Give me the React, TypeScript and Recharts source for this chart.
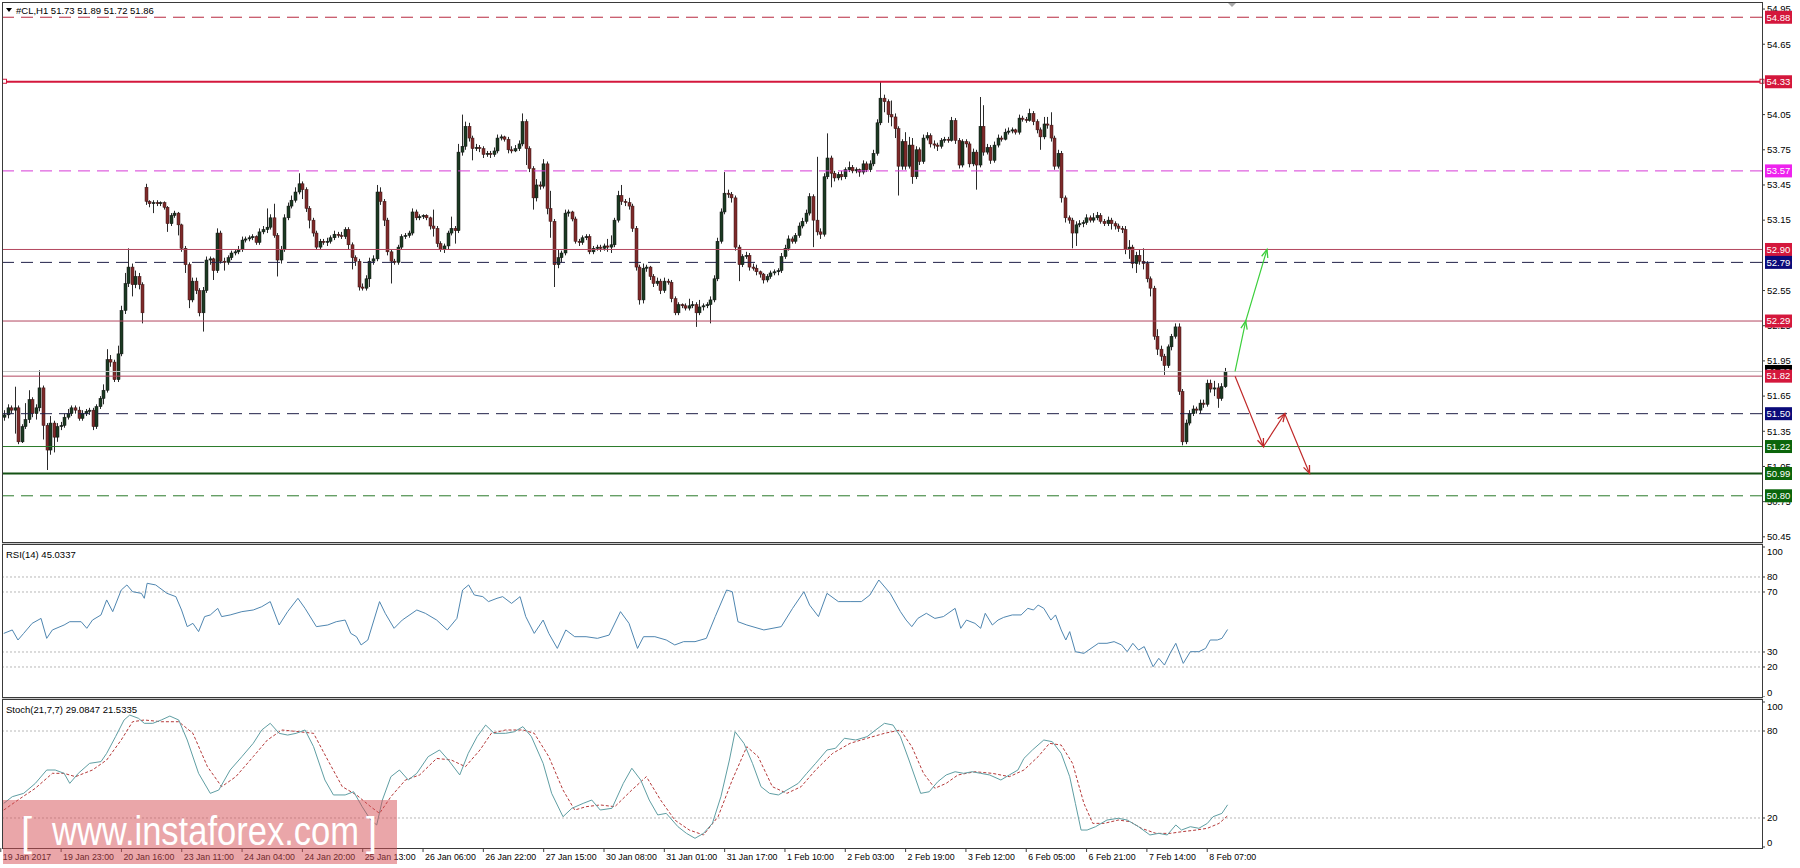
import React from 'react';
import { ComposedChart, Bar, Line, XAxis, YAxis, ReferenceLine } from 'recharts';

// ---------- DATA ----------
// Hourly candles #CL,H1 : [open, high, low, close]
const candles: [number, number, number, number][] = [
[51.47,51.53,51.44,51.49],[51.49,51.58,51.46,51.55],[51.55,51.57,51.50,51.53],[51.53,51.73,51.33,51.55],[51.55,51.57,51.24,51.26],
[51.26,51.41,51.25,51.39],[51.39,51.59,51.37,51.45],[51.45,51.70,51.42,51.62],[51.62,51.64,51.47,51.50],[51.50,51.58,51.45,51.55],
[51.55,51.87,51.52,51.72],[51.72,51.74,51.28,51.40],[51.40,51.42,51.02,51.19],[51.19,51.48,51.15,51.42],[51.42,51.44,51.17,51.30],
[51.30,51.42,51.26,51.39],[51.39,51.43,51.36,51.40],[51.40,51.50,51.38,51.47],[51.47,51.54,51.45,51.50],[51.50,51.57,51.48,51.55],
[51.55,51.57,51.50,51.53],[51.53,51.56,51.44,51.46],[51.46,51.53,51.44,51.50],[51.50,51.54,51.48,51.52],[51.52,51.55,51.49,51.53],
[51.53,51.55,51.36,51.39],[51.39,51.58,51.37,51.56],[51.56,51.65,51.54,51.63],[51.63,51.75,51.58,51.70],[51.70,52.05,51.68,51.96],
[51.96,52.00,51.90,51.94],[51.94,51.96,51.77,51.79],[51.79,52.08,51.77,52.01],[52.01,52.42,51.99,52.38],[52.38,52.70,52.35,52.61],
[52.61,52.91,52.58,52.75],[52.75,52.78,52.50,52.60],[52.60,52.72,52.57,52.67],[52.67,52.70,52.56,52.60],[52.60,52.62,52.27,52.36],
[53.43,53.46,53.28,53.31],[53.31,53.32,53.26,53.29],[53.29,53.32,53.21,53.30],[53.30,53.32,53.27,53.29],[53.29,53.31,53.27,53.30],
[53.30,53.31,53.24,53.26],[53.26,53.27,53.05,53.12],[53.12,53.21,53.10,53.19],[53.19,53.23,53.17,53.21],[53.21,53.22,53.02,53.11],
[53.11,53.12,52.88,52.91],[52.91,52.93,52.70,52.77],[52.77,52.79,52.40,52.47],[52.47,52.66,52.45,52.63],[52.63,52.66,52.52,52.55],
[52.55,52.57,52.33,52.36],[52.36,52.58,52.20,52.55],[52.55,52.84,52.53,52.81],[52.81,52.84,52.77,52.82],[52.82,52.83,52.64,52.72],
[52.72,53.08,52.70,53.04],[53.04,53.06,52.78,52.80],[52.80,52.83,52.72,52.79],[52.79,52.85,52.77,52.83],[52.83,52.89,52.81,52.87],
[52.87,52.90,52.85,52.88],[52.88,52.93,52.86,52.90],[52.90,53.01,52.88,52.98],[52.98,53.01,52.96,52.99],[52.99,53.02,52.97,53.00],
[53.00,53.03,52.98,53.01],[53.01,53.02,52.94,52.96],[52.96,53.08,52.94,53.05],[53.05,53.10,53.03,53.07],[53.07,53.25,53.04,53.09],
[53.09,53.20,53.07,53.17],[53.17,53.29,53.00,53.02],[53.02,53.04,52.67,52.81],[52.81,52.93,52.78,52.90],[52.90,53.20,52.88,53.17],
[53.17,53.30,53.15,53.27],[53.27,53.36,53.25,53.32],[53.32,53.43,53.30,53.39],[53.39,53.55,53.37,53.46],[53.46,53.48,53.33,53.41],
[53.41,53.43,53.22,53.25],[53.25,53.27,53.08,53.15],[53.15,53.17,53.01,53.04],[53.04,53.06,52.90,52.92],[52.92,52.99,52.90,52.97],
[52.97,52.99,52.94,52.96],[52.96,53.00,52.93,52.97],[52.97,53.02,52.95,53.00],[53.00,53.06,52.98,53.03],[53.03,53.05,53.00,53.02],
[53.02,53.05,52.99,53.01],[53.01,53.09,52.99,53.07],[53.07,53.09,52.90,52.94],[52.94,52.96,52.73,52.83],[52.83,52.85,52.76,52.80],
[52.80,52.82,52.55,52.58],[52.58,52.61,52.55,52.57],[52.57,52.68,52.55,52.65],[52.65,52.83,52.58,52.80],[52.80,52.85,52.77,52.82],
[52.82,53.45,52.80,53.39],[53.39,53.43,53.28,53.31],[53.31,53.33,53.10,53.15],[53.15,53.17,52.85,52.88],[52.88,52.90,52.61,52.80],
[52.80,52.82,52.77,52.79],[52.79,52.94,52.77,52.92],[52.92,53.03,52.90,53.01],[53.01,53.04,52.99,53.02],[53.02,53.06,53.00,53.04],
[53.04,53.25,53.02,53.22],[53.22,53.24,53.15,53.17],[53.17,53.20,53.15,53.18],[53.18,53.20,53.16,53.19],[53.19,53.20,53.15,53.17],
[53.17,53.18,53.07,53.10],[53.10,53.24,53.01,53.08],[53.08,53.10,52.92,52.95],[52.95,52.97,52.88,52.90],[52.90,52.95,52.87,52.93],
[52.93,53.06,52.90,53.04],[53.04,53.18,53.02,53.08],[53.08,53.10,52.95,53.06],[53.06,53.80,53.04,53.73],[53.73,54.05,53.70,53.78],
[53.78,53.99,53.75,53.95],[53.95,53.98,53.82,53.85],[53.85,53.87,53.66,53.76],[53.76,53.80,53.74,53.77],[53.77,53.79,53.73,53.76],
[53.76,53.78,53.68,53.71],[53.71,53.74,53.69,53.72],[53.72,53.74,53.68,53.71],[53.71,53.77,53.69,53.74],[53.74,53.88,53.72,53.85],
[53.85,53.88,53.83,53.86],[53.86,53.87,53.82,53.84],[53.84,53.86,53.72,53.75],[53.75,53.78,53.72,53.74],[53.74,53.79,53.73,53.76],
[53.76,53.83,53.74,53.80],[53.80,54.06,53.78,53.99],[53.99,54.01,53.62,53.76],[53.76,53.78,53.56,53.59],[53.59,53.61,53.24,53.34],
[53.34,53.50,53.31,53.45],[53.45,53.48,53.41,53.44],[53.44,53.67,53.42,53.63],[53.63,53.65,53.20,53.25],[53.25,53.40,53.00,53.14],
[53.14,53.16,52.58,52.77],[52.77,52.90,52.74,52.83],[52.83,52.89,52.79,52.87],[52.87,53.24,52.85,53.21],[53.21,53.24,53.18,53.22],
[53.22,53.23,53.14,53.16],[53.16,53.18,52.95,52.97],[52.97,52.99,52.93,52.96],[52.96,53.02,52.94,53.00],[53.00,53.03,52.98,53.01],
[53.01,53.03,52.86,52.88],[52.88,52.93,52.86,52.91],[52.91,52.94,52.89,52.92],[52.92,52.94,52.88,52.91],[52.91,52.95,52.89,52.93],
[52.93,52.99,52.88,52.92],[52.92,53.02,52.87,52.94],[52.94,53.17,52.92,53.15],[53.15,53.40,53.13,53.36],[53.36,53.45,53.28,53.31],
[53.31,53.33,53.27,53.30],[53.30,53.34,53.24,53.27],[53.27,53.29,53.05,53.08],[53.08,53.10,52.72,52.75],[52.75,52.77,52.43,52.47],
[52.47,52.78,52.44,52.74],[52.74,52.77,52.71,52.75],[52.75,52.76,52.64,52.67],[52.67,52.69,52.58,52.61],[52.61,52.66,52.59,52.63],
[52.63,52.65,52.52,52.55],[52.55,52.66,52.53,52.63],[52.63,52.65,52.60,52.62],[52.62,52.64,52.45,52.48],[52.48,52.50,52.34,52.36],
[52.36,52.45,52.34,52.43],[52.43,52.44,52.40,52.42],[52.42,52.44,52.38,52.40],[52.40,52.48,52.38,52.42],[52.42,52.46,52.40,52.43],
[52.43,52.45,52.24,52.36],[52.36,52.47,52.34,52.41],[52.41,52.44,52.38,52.42],[52.42,52.45,52.40,52.43],[52.43,52.50,52.27,52.47],
[52.47,52.68,52.45,52.65],[52.65,53.00,52.63,52.97],[52.97,53.25,52.95,53.22],[53.22,53.56,53.20,53.38],[53.38,53.41,53.34,53.37],
[53.37,53.39,53.30,53.34],[53.34,53.36,52.89,52.92],[52.92,52.94,52.63,52.77],[52.77,52.86,52.75,52.84],[52.84,52.88,52.82,52.85],
[52.85,52.87,52.72,52.75],[52.75,52.78,52.72,52.74],[52.74,52.77,52.68,52.71],[52.71,52.72,52.66,52.69],[52.69,52.70,52.61,52.64],
[52.64,52.69,52.62,52.67],[52.67,52.72,52.65,52.70],[52.70,52.73,52.68,52.71],[52.71,52.74,52.68,52.72],[52.72,52.87,52.70,52.84],
[52.84,52.94,52.82,52.91],[52.91,53.02,52.89,52.99],[52.99,53.01,52.95,52.97],[52.97,53.04,52.95,53.02],[53.02,53.13,53.00,53.10],
[53.10,53.17,53.08,53.14],[53.14,53.24,53.12,53.21],[53.21,53.38,53.19,53.35],[53.35,53.37,52.92,53.15],[53.15,53.69,53.02,53.05],
[53.05,53.08,52.99,53.03],[53.03,53.55,53.01,53.52],[53.52,53.89,53.50,53.68],[53.68,53.70,53.43,53.55],[53.55,53.57,53.48,53.51],
[53.51,53.56,53.49,53.54],[53.54,53.57,53.49,53.52],[53.52,53.60,53.50,53.58],[53.58,53.65,53.56,53.60],[53.60,53.62,53.55,53.57],
[53.57,53.60,53.55,53.58],[53.58,53.59,53.52,53.56],[53.56,53.66,53.54,53.63],[53.63,53.65,53.56,53.58],[53.58,53.66,53.56,53.63],
[53.63,53.75,53.61,53.72],[53.72,54.01,53.70,53.98],[53.98,54.33,53.96,54.19],[54.19,54.22,54.07,54.16],[54.16,54.18,53.98,54.05],
[54.05,54.17,53.95,54.03],[54.03,54.06,53.85,53.93],[53.93,53.95,53.36,53.61],[53.61,53.84,53.58,53.82],[53.82,53.90,53.58,53.61],
[53.61,53.86,53.59,53.79],[53.79,53.85,53.46,53.52],[53.52,53.78,53.50,53.75],[53.75,53.77,53.62,53.65],[53.65,53.88,53.63,53.85],
[53.85,53.90,53.83,53.87],[53.87,53.89,53.77,53.80],[53.80,53.83,53.76,53.79],[53.79,53.81,53.74,53.78],[53.78,53.85,53.76,53.83],
[53.83,53.86,53.81,53.84],[53.84,53.86,53.81,53.83],[53.83,54.03,53.82,54.00],[54.00,54.02,53.80,53.83],[53.83,53.85,53.59,53.62],
[53.62,53.84,53.60,53.82],[53.82,53.84,53.77,53.80],[53.80,53.82,53.60,53.63],[53.63,53.76,53.61,53.73],[53.73,53.75,53.41,53.62],
[53.62,54.20,53.60,53.95],[53.95,54.13,53.70,53.73],[53.73,53.80,53.71,53.77],[53.77,53.79,53.63,53.66],[53.66,53.82,53.64,53.79],
[53.79,53.88,53.77,53.85],[53.85,53.87,53.82,53.84],[53.84,53.93,53.83,53.90],[53.90,53.94,53.88,53.91],[53.91,53.94,53.89,53.92],
[53.92,53.93,53.88,53.90],[53.90,54.05,53.88,54.02],[54.02,54.04,53.99,54.01],[54.01,54.03,53.98,54.00],[54.00,54.10,53.99,54.06],
[54.06,54.08,53.96,53.99],[53.99,54.01,53.89,53.92],[53.92,53.94,53.75,53.86],[53.86,54.03,53.84,53.97],[53.97,54.03,53.93,53.96],
[53.96,54.07,53.82,53.85],[53.85,53.87,53.58,53.61],[53.61,53.75,53.59,53.72],[53.72,53.74,53.30,53.34],[53.34,53.36,53.13,53.17],
[53.17,53.19,53.12,53.15],[53.15,53.17,52.91,53.04],[53.04,53.14,52.93,53.11],[53.11,53.15,53.09,53.12],[53.12,53.15,53.09,53.13],
[53.13,53.20,53.11,53.17],[53.17,53.19,53.13,53.15],[53.15,53.21,53.13,53.17],[53.17,53.22,53.15,53.19],[53.19,53.21,53.12,53.14],
[53.14,53.16,53.10,53.12],[53.12,53.18,53.10,53.15],[53.15,53.17,53.07,53.12],[53.12,53.14,53.07,53.10],[53.10,53.12,53.05,53.08],
[53.08,53.10,53.04,53.07],[53.07,53.10,52.86,52.90],[52.90,52.98,52.82,52.92],[52.92,52.94,52.74,52.78],[52.78,52.88,52.70,52.85],
[52.85,52.90,52.77,52.80],[52.80,52.91,52.73,52.78],[52.78,52.80,52.62,52.65],[52.65,52.67,52.50,52.57],[52.57,52.59,52.13,52.16],
[52.16,52.22,52.00,52.05],[52.05,52.08,51.95,51.99],[51.99,52.01,51.83,51.91],[51.91,52.09,51.89,52.07],[52.07,52.18,52.04,52.16],
[52.16,52.27,52.14,52.24],[52.24,52.27,51.66,51.69],[51.69,51.71,51.23,51.26],[51.26,51.45,51.24,51.42],[51.42,51.53,51.40,51.50],
[51.50,51.57,51.48,51.54],[51.54,51.56,51.50,51.53],[51.53,51.62,51.50,51.59],[51.59,51.62,51.55,51.58],[51.58,51.79,51.56,51.76],
[51.76,51.79,51.68,51.71],[51.71,51.78,51.65,51.72],[51.72,51.76,51.55,51.63],[51.63,51.76,51.61,51.73],[51.73,51.89,51.72,51.86],
];

// RSI(14) readings: [bar, value]
const rsiPoints: [number, number][] = [
[0,42.4],[2.4,44.7],[4,38],[5.6,42.4],[8,49.1],[10.5,52.4],[12.1,39.1],[13.7,44.7],[17,48],[18.6,50.2],[21.8,50.2],[23.4,45.8],
[25,51.3],[27.4,54.7],[29,64.7],[30.7,56.9],[33.1,71.3],[34.7,74.7],[36.3,70.2],[38.8,69.1],[39.6,65.8],[40.4,75.8],[42.8,74.7],
[46,69.1],[48.5,66.9],[50.1,58],[51.7,46.9],[53.3,49.1],[54.9,43.6],[56.6,53.6],[58.2,54.7],[60.3,59.1],[61.4,53.6],[63.8,54.7],
[67.1,56.9],[70.3,58],[72.7,60.2],[75.1,63.6],[77.6,48],[80,56.9],[82.9,65.8],[84.9,59.1],[88.1,46.9],[91.3,48],[93.7,50.2],
[96.2,51.3],[97.8,42.4],[99.4,40.2],[100.7,34.7],[102.6,38],[105.9,63.6],[107.5,55.8],[110,45.8],[112.3,51.3],[116.4,58],
[118.8,55.8],[122,51.3],[125,44.7],[127.7,52.4],[129.3,71.3],[131,74.7],[132.6,68],[135,66.9],[136.6,63.6],[139,65.8],
[140.6,66.9],[143.1,62.4],[145.5,66.9],[147.1,53.6],[149.5,42.4],[152,51.3],[153.6,42.4],[156,32.4],[158.4,44.7],[160.9,40.2],
[164.1,40.2],[167.3,39.1],[170.6,41.3],[173.8,56.9],[176.2,49.1],[178.6,32.4],[180.3,40.2],[183.5,40.2],[186.7,38],[189.1,34.7],
[191.6,36.9],[194.8,36.9],[198,39.1],[200.5,53.6],[203.7,71.3],[205.3,70.2],[206.9,50.2],[209.4,48],[214.2,44.7],[219.1,46.9],
[222.3,59.1],[225.5,70.2],[227.1,61.3],[229.6,53.6],[232,69.1],[235.2,63.6],[238.5,63.6],[241.7,63.6],[244.1,68],[246.6,78],
[249.8,69.1],[252.7,56.9],[254.3,51.3],[255.9,46.9],[257.6,52.4],[260,55.8],[262.4,52.4],[264.8,53.6],[268.1,59.1],[269.7,45.8],
[271.3,51.3],[273.7,49.1],[275.3,45.8],[276.6,55.8],[278.6,48],[280.2,51.3],[281.8,53.1],[284.2,54.7],[286.7,54.7],[288.6,59.1],
[290.2,58],[291.5,61.3],[293.1,59.1],[295.1,51.3],[296.4,54.7],[298,44.7],[299.3,38],[300.4,43.6],[302,30.2],[304.4,29.1],
[306.4,32.4],[308.5,35.8],[310.9,35.8],[312.9,36.9],[315,34.7],[316.6,30.2],[318.2,35.8],[319.8,31.3],[321.4,33.6],[323.9,20.2],
[325.5,25.8],[327.1,21.3],[328.7,29.1],[330.3,35.8],[332.4,22.4],[334.4,30.2],[336.8,30.2],[338.7,32.4],[340,38],[342,38],
[343.3,39.1],[344.9,45.0],
];

// Stochastic(21,7,7) main line readings: [bar, value]
const stochK: [number, number][] = [
[0,30.1],[2.4,34.7],[5.6,37],[8.9,43.9],[12.1,53.1],[14.5,53.1],[17,50.8],[18.6,43.9],[21,50.8],[24.2,57.7],[27.4,58.9],[29,64.6],
[31.5,76.1],[33.9,87.6],[35.5,91],[38,88.7],[39.6,85.3],[42,85.3],[44.4,87.6],[46.8,90.3],[49.3,87.6],[51.7,73.8],[54.9,50.8],
[58.2,37],[60.6,39.3],[63.8,53.1],[67.1,62.3],[70.3,71.5],[72.7,80.7],[75.1,85.3],[77.6,78.4],[80,77.2],[82.4,78.4],[84.9,80.7],
[87.3,69.2],[90.5,46.2],[92.9,35.9],[96.2,35.9],[98.6,38.1],[101,27.8],[103.4,18.6],[105.1,15.2],[106.7,32.4],[109.1,48.5],
[111.5,53.1],[114,46.2],[116.4,50.8],[119.6,62.3],[122.8,66.9],[125.3,60],[128.5,49.7],[130.9,64.6],[133.4,76.1],[135.8,84.1],
[138.2,78.4],[141.4,78.4],[143.9,79.5],[146.3,83],[148.7,76.1],[152,57.7],[154.4,37],[157.6,20.9],[160.1,26.7],[163.3,30.1],
[165.7,32.4],[168.1,25.5],[171.4,26.7],[174.6,43.9],[177,54.3],[179.5,46.2],[181.9,32.4],[184.3,22.1],[186.7,23.2],[190,14],
[192.4,9.4],[194.8,6],[197.2,9.4],[199.7,16.3],[202.1,34.7],[204.5,60],[206.1,79.5],[208.6,71.5],[211,57.7],[213.4,41.6],
[215.8,37],[218.3,35.9],[220.7,39.3],[223.9,43.9],[226.3,50.8],[228.8,57.7],[232,66.9],[234.4,68.1],[236.9,75],[240.1,73.8],
[243.3,76.1],[245.7,80.7],[248.2,85.3],[250.6,84.1],[252.7,76.1],[255.1,60],[258.4,37],[260.8,38.1],[263.2,45],[265.6,49.7],
[268.1,51.9],[270.5,50.8],[272.9,51.9],[275.3,50.8],[277.8,49.7],[281,46.2],[283.4,49.7],[285.8,53.1],[287.5,61.1],[289.9,66.9],
[293.1,73.8],[295.5,72.6],[298,64.6],[300.4,48.5],[302,30.1],[303.6,11.7],[305.3,11.7],[307.7,14],[310.9,18.6],[314.1,19.8],
[316.6,18.6],[319.8,14],[323,8.3],[325.5,9.4],[327.9,8.3],[330.3,15.2],[331.9,11.7],[334.4,14],[336.8,12.9],[339.2,16.3],
[340.8,20.9],[343.3,23.2],[344.9,29.1],
];

// Stochastic signal line readings: [bar, value]
const stochD: [number, number][] = [
[0,25.5],[4,32.4],[8.9,40.5],[13.7,50.8],[17,50.8],[20.2,48.5],[25,53.1],[29,60],[33.1,73.8],[36.3,86.4],[39.6,87.6],[44.4,86.4],
[49.3,86.4],[53.3,78.4],[57.4,55.4],[61.4,41.6],[65.4,48.5],[70.3,62.3],[74.3,73.8],[78.4,80.7],[83.2,79.5],[87.3,78.4],[91.3,60],
[95.4,41.6],[99.4,35.9],[103.4,27.8],[105.9,23.2],[109.1,34.7],[113.2,46.2],[117.2,49.7],[122,61.1],[126.1,60],[130.1,55.4],
[134.2,66.9],[137.4,78.4],[141.4,80.7],[146.3,80.7],[149.5,78.4],[153.6,62.3],[157.6,39.3],[160.9,25.5],[164.1,27.8],[168.1,29],
[172.2,27.8],[177,39.3],[181.1,48.5],[185.1,32.4],[189.1,18.6],[193.2,11.7],[197.2,8.3],[201.3,20.9],[205.3,46.2],[209.4,69.2],
[212.6,62.3],[216.6,41.6],[220.7,37],[224.7,41.6],[228.8,53.1],[233.6,64.6],[238.5,71.5],[243.3,75],[248.2,78.4],[252.7,80.7],
[255.9,69.2],[259.2,50.8],[262.4,40.5],[265.6,43.9],[268.9,49.7],[273.7,51.9],[278.6,50.8],[283.4,48.5],[287.5,53.1],[291.5,62.3],
[294.7,71.5],[298,70.3],[301.2,57.7],[304.4,30.1],[306.9,16.3],[310.1,16.3],[314.1,18.6],[317.4,17.5],[320.6,12.9],[324.7,9.4],
[328.7,9.4],[331.9,10.5],[336,11.7],[339.2,12.9],[342.5,16.3],[344.9,21.5],
];

// Horizontal levels drawn on the price chart
const levelPrices = [54.88, 54.33, 53.57, 52.90, 52.79, 52.29, 51.86, 51.82, 51.50, 51.22, 50.99, 50.80];
// Price-axis tick labels that show in the picture (54.35 and 52.85 sit fully under level tags)
const priceTicks = [54.95, 54.65, 54.05, 53.75, 53.45, 53.15, 52.55, 52.25, 51.95, 51.65, 51.35, 51.05, 50.75, 50.45];
// Scenario arrows: [bar, price]
const greenArrow: [number, number][] = [[347, 51.86], [350, 52.29], [356, 52.90]];
const redArrow: [number, number][] = [[347, 51.82], [355, 51.22], [361, 51.50], [368, 50.99]];
// Time axis labels and the bar where each sits
const dateLabels = ['19 Jan 2017', '19 Jan 23:00', '20 Jan 16:00', '23 Jan 11:00', '24 Jan 04:00', '24 Jan 20:00', '25 Jan 13:00',
  '26 Jan 06:00', '26 Jan 22:00', '27 Jan 15:00', '30 Jan 08:00', '31 Jan 01:00', '31 Jan 17:00', '1 Feb 10:00', '2 Feb 03:00',
  '2 Feb 19:00', '3 Feb 12:00', '6 Feb 05:00', '6 Feb 21:00', '7 Feb 14:00', '8 Feb 07:00'];
const labelBars = [0, 17, 34, 51, 68, 85, 102, 119, 136, 153, 170, 187, 204, 221, 238, 255, 272, 289, 306, 323, 340];
const rsiTicks = [100, 80, 70, 30, 20, 0];
const rsiLevels = [80, 70, 30, 20];
const stochTicks = [100, 80, 20, 0];
const stochLevels = [80, 20];

// ---------- STYLE / LAYOUT ----------
const N_SLOTS = 496;
const PRICE_DOMAIN: [number, number] = [50.406, 55.01];
const RED = '#d4173c';
const NAVY = '#0b0b7a';
const GREEN_BG = '#0b650b';
const DASH = '12 7';
const levelStyles = [
  { stroke: '#b8283f', dash: DASH, w: 1, bg: RED },
  { stroke: RED, w: 2, bg: RED, square: true },
  { stroke: '#d63ad6', dash: DASH, w: 1, bg: '#ee22ee' },
  { stroke: '#b3475f', w: 1, bg: RED },
  { stroke: '#202048', dash: DASH, w: 1, bg: NAVY },
  { stroke: '#b3475f', w: 1, bg: RED },
  { stroke: '#c4c4c4', w: 1, bg: '#000000' },
  { stroke: '#b3475f', w: 1, bg: RED },
  { stroke: '#202048', dash: DASH, w: 1, bg: NAVY },
  { stroke: '#2a7a2a', w: 1, bg: GREEN_BG },
  { stroke: '#145214', w: 2, bg: GREEN_BG },
  { stroke: '#2a7a2a', dash: DASH, w: 1, bg: GREEN_BG },
];
const FONT = "'Liberation Sans', Arial, sans-serif";

const mainRows = Array.from({ length: N_SLOTS }, (_, i) => {
  const k = candles[i];
  const row: Record<string, any> = { i };
  if (k) {
    row.o = k[0]; row.h = k[1]; row.l = k[2]; row.c = k[3];
    row.range = [k[2], k[1]];
  }
  return row;
});
greenArrow.forEach(([b, p]) => { mainRows[b].g = p; });
redArrow.forEach(([b, p]) => { mainRows[b].r = p; });

const toXY = (pts: [number, number][]) => pts.map(([x, v]) => ({ x, v }));

// ---------- SHAPES ----------
const Candle = (props: any) => {
  const { x, y, width, height, payload } = props;
  if (!payload || payload.c == null || y == null || isNaN(y)) return <g />;
  const { o, h, l, c } = payload;
  const top = Math.min(y, y + height);
  const bot = Math.max(y, y + height);
  const k = (bot - top) / (h - l || 1);
  const yO = top + (h - o) * k;
  const yC = top + (h - c) * k;
  const cx = Math.round(x + width / 2) + 0.5;
  const bull = c >= o;
  const bTop = Math.min(yO, yC);
  const bH = Math.max(1, Math.abs(yO - yC));
  return (
    <g>
      <line x1={cx} x2={cx} y1={top} y2={bot} stroke="#2a2a2a" strokeWidth={1} />
      <rect x={cx - 1.5} y={bTop} width={3} height={bH} fill={bull ? '#1b3a22' : '#7e2a2a'} stroke={bull ? '#111' : '#3a1414'} strokeWidth={0.5} />
    </g>
  );
};

const LevelLabel = (props: any) => {
  const { viewBox, text, bg, square, stroke } = props;
  if (!viewBox) return <g />;
  const { x, y, width } = viewBox;
  const rx = x + width + 3;
  return (
    <g>
      {square && <rect x={x + 0.5} y={y - 2.5} width={4} height={4} fill="#fff" stroke={stroke} strokeWidth={1} />}
      {square && <rect x={x + width - 2} y={y - 2.5} width={4} height={4} fill="#fff" stroke={stroke} strokeWidth={1} />}
      <rect x={rx} y={y - 6.5} width={27} height={13} fill={bg} />
      <text x={rx + 1.5} y={y + 3.3} fontSize={9.5} fill="#fff" fontFamily={FONT}>{text}</text>
    </g>
  );
};

const TickText = (props: any) => {
  const { viewBox, text, dy } = props;
  if (!viewBox) return <g />;
  const { x, y, width } = viewBox;
  return (
    <g>
      <line x1={x + width} x2={x + width + 3} y1={y} y2={y} stroke="#404040" />
      <text x={x + width + 5} y={y + 3.3 + (dy || 0)} fontSize={9.5} fill="#000" fontFamily={FONT}>{text}</text>
    </g>
  );
};

const ArrowHead = (props: any) => {
  const { cx, cy, index, points, value, color } = props;
  if (cx == null || cy == null || value == null || !points) return <g />;
  let j = index - 1;
  while (j >= 0 && (points[j].y == null || points[j].value == null)) j--;
  if (j < 0) return <g />;
  const dx = cx - points[j].x;
  const dy = cy - points[j].y;
  const len = Math.hypot(dx, dy) || 1;
  const ux = dx / len;
  const uy = dy / len;
  const s = 8;
  const w = 3.2;
  const bx = cx - ux * s;
  const by = cy - uy * s;
  return (
    <polyline
      points={`${bx - uy * w},${by + ux * w} ${cx},${cy} ${bx + uy * w},${by - ux * w}`}
      fill="none" stroke={color} strokeWidth={1.3}
    />
  );
};

const DateTick = (props: any) => {
  const { x, y, payload } = props;
  const idx = labelBars.indexOf(payload.value);
  if (idx < 0) return <g />;
  return (
    <g>
      <line x1={x - 3} x2={x - 3} y1={y} y2={y + 4} stroke="#404040" />
      <text x={x - 1} y={y + 12} fontSize={8.8} fill="#000" fontFamily={FONT}>{dateLabels[idx]}</text>
    </g>
  );
};

// ---------- APP ----------
export default function App() {
  const last = candles[candles.length - 1];
  const header = `#CL,H1  ${last[0].toFixed(2)} ${last[1].toFixed(2)} ${last[2].toFixed(2)} ${last[3].toFixed(2)}`;
  return (
    <div style={{ position: 'absolute', left: 0, top: 0, width: 1800, height: 868, background: '#fff', fontFamily: FONT, overflow: 'hidden' }}>
      {/* Price panel */}
      <div style={{ position: 'absolute', left: 0, top: 0 }}>
        <ComposedChart width={1800} height={545} data={mainRows} margin={{ top: 2, right: 38, bottom: 3, left: 2 }} barCategoryGap={0} barGap={0}>
          <XAxis dataKey="i" hide />
          <YAxis hide domain={PRICE_DOMAIN} allowDataOverflow />
          <Bar dataKey="range" shape={<Candle />} isAnimationActive={false} />
          {priceTicks.map((t) => (
            <ReferenceLine key={'pt' + t} y={t} stroke="none" label={<TickText text={t.toFixed(2)} />} />
          ))}
          {levelPrices.map((p, i) => {
            const s = levelStyles[i];
            return (
              <ReferenceLine
                key={'lv' + p}
                y={p}
                stroke={s.stroke}
                strokeWidth={s.w}
                strokeDasharray={s.dash}
                label={<LevelLabel text={p.toFixed(2)} bg={s.bg} square={s.square} stroke={s.stroke} />}
              />
            );
          })}
          <Line
            dataKey="g" stroke="#3ccf3c" strokeWidth={1.2} connectNulls isAnimationActive={false} activeDot={false}
            dot={(p: any) => { const { key, ...rest } = p; return <ArrowHead key={key} {...rest} color="#3ccf3c" />; }}
          />
          <Line
            dataKey="r" stroke="#c02a2a" strokeWidth={1.2} connectNulls isAnimationActive={false} activeDot={false}
            dot={(p: any) => { const { key, ...rest } = p; return <ArrowHead key={key} {...rest} color="#c02a2a" />; }}
          />
        </ComposedChart>
      </div>

      {/* RSI panel */}
      <div style={{ position: 'absolute', left: 0, top: 545 }}>
        <ComposedChart width={1800} height={152} margin={{ top: 0, right: 38, bottom: 0, left: 2 }}>
          <XAxis type="number" dataKey="x" domain={[-0.5, N_SLOTS - 0.5]} hide allowDataOverflow />
          <YAxis hide domain={[0, 101.33]} allowDataOverflow />
          {rsiLevels.map((v) => (
            <ReferenceLine key={'rl' + v} y={v} stroke="#b8b8b8" strokeDasharray="2 2" />
          ))}
          {rsiTicks.map((v) => (
            <ReferenceLine key={'rt' + v} y={v} stroke="none" label={<TickText text={String(v)} dy={v === 100 ? 5 : v === 0 ? -4 : 0} />} />
          ))}
          <Line data={toXY(rsiPoints)} dataKey="v" stroke="#4f86b0" strokeWidth={1} dot={false} activeDot={false} isAnimationActive={false} />
        </ComposedChart>
      </div>

      {/* Stochastic panel with time axis */}
      <div style={{ position: 'absolute', left: 0, top: 700 }}>
        <ComposedChart width={1800} height={168} margin={{ top: 0, right: 38, bottom: 0, left: 2 }}>
          <XAxis
            type="number" dataKey="x" domain={[-0.5, N_SLOTS - 0.5]} allowDataOverflow height={20}
            ticks={labelBars} interval={0} tick={<DateTick />} tickLine={false} axisLine={false} tickSize={0} tickMargin={0}
          />
          <YAxis hide domain={[-0.69, 101.38]} allowDataOverflow />
          {stochLevels.map((v) => (
            <ReferenceLine key={'sl' + v} y={v} stroke="#b8b8b8" strokeDasharray="2 2" />
          ))}
          {stochTicks.map((v) => (
            <ReferenceLine key={'st' + v} y={v} stroke="none" label={<TickText text={String(v)} dy={v === 100 ? 5 : v === 0 ? -4 : 0} />} />
          ))}
          <Line data={toXY(stochD)} dataKey="v" stroke="#b53a3a" strokeWidth={1} strokeDasharray="3 2" dot={false} activeDot={false} isAnimationActive={false} />
          <Line data={toXY(stochK)} dataKey="v" stroke="#5f9ea3" strokeWidth={1} dot={false} activeDot={false} isAnimationActive={false} />
        </ComposedChart>
      </div>

      {/* frames, captions, watermark */}
      <svg width={1800} height={868} style={{ position: 'absolute', left: 0, top: 0, pointerEvents: 'none' }}>
        <line x1={2.5} y1={2} x2={2.5} y2={849} stroke="#3a3a3a" />
        <line x1={2} y1={2.5} x2={1763} y2={2.5} stroke="#3a3a3a" />
        <line x1={1762.5} y1={2} x2={1762.5} y2={849} stroke="#3a3a3a" />
        <line x1={2} y1={542.5} x2={1763} y2={542.5} stroke="#3a3a3a" />
        <rect x={2} y={543} width={1761} height={1} fill="#c8c8c8" />
        <line x1={2} y1={544.5} x2={1763} y2={544.5} stroke="#3a3a3a" />
        <line x1={2} y1={697.5} x2={1763} y2={697.5} stroke="#3a3a3a" />
        <rect x={2} y={698} width={1761} height={1} fill="#c8c8c8" />
        <line x1={2} y1={699.5} x2={1763} y2={699.5} stroke="#3a3a3a" />
        <line x1={2} y1={848.5} x2={1763} y2={848.5} stroke="#3a3a3a" />
        <polygon points="1228,3 1236,3 1232,7" fill="#a8a8a8" />
        <polygon points="6,8 12,8 9,12" fill="#000" />
        <text x={16} y={14} fontSize={9.5} fill="#000">{header}</text>
        <text x={6} y={558} fontSize={9.5} fill="#000">RSI(14) 45.0337</text>
        <text x={6} y={713} fontSize={9.5} fill="#000">Stoch(21,7,7) 29.0847 21.5335</text>
        <rect x={3} y={800} width={394} height={64} fill="rgba(214,78,84,0.5)" />
        <text x={21} y={846} fontSize={40} fill="#fff" fontWeight={300}>[</text>
        <text x={52} y={845} fontSize={40} fill="#fff" textLength={307} lengthAdjust="spacingAndGlyphs">www.instaforex.com</text>
        <text x={366} y={846} fontSize={40} fill="#fff" fontWeight={300}>]</text>
      </svg>
    </div>
  );
}
